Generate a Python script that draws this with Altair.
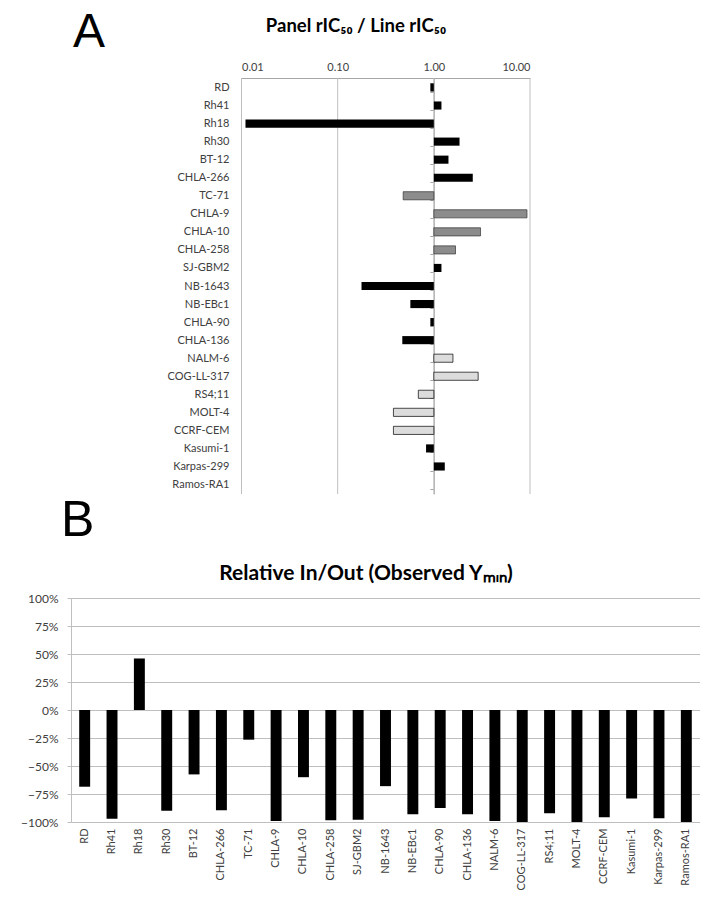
import altair as alt
import pandas as pd

# ---- data ----
cell_lines = ["RD", "Rh41", "Rh18", "Rh30", "BT-12", "CHLA-266", "TC-71", "CHLA-9",
              "CHLA-10", "CHLA-258", "SJ-GBM2", "NB-1643", "NB-EBc1", "CHLA-90",
              "CHLA-136", "NALM-6", "COG-LL-317", "RS4;11", "MOLT-4", "CCRF-CEM",
              "Kasumi-1", "Karpas-299", "Ramos-RA1"]
ratio_values = [0.92, 1.20, 0.011, 1.85, 1.42, 2.54, 0.48, 9.3,
                3.06, 1.68, 1.20, 0.177, 0.57, 0.92,
                0.47, 1.58, 2.89, 0.69, 0.38, 0.38,
                0.83, 1.30, 1.0]
ratio_groups = ["solid", "solid", "solid", "solid", "solid", "solid", "hatch", "hatch",
                "hatch", "hatch", "solid", "solid", "solid", "solid",
                "solid", "dots", "dots", "dots", "dots", "dots",
                "solid", "solid", "solid"]
ymin_values = [-0.685, -0.97, 0.46, -0.90, -0.575, -0.895, -0.265, -0.99,
               -0.60, -0.985, -0.98, -0.68, -0.93, -0.875,
               -0.93, -0.99, -1.0, -0.922, -1.0, -0.958,
               -0.79, -0.967, -1.0]
x_ticks_a = [0.01, 0.1, 1, 10]
y_ticks_b = [-1, -0.75, -0.5, -0.25, 0, 0.25, 0.5, 0.75, 1]

# ---- styling ----
FONT = "Lato"
LABEL = "#404040"
GRID = "#bfbfbf"
W, H = 629, 744
A_RANGE_X = [170.5, 459]
A_RANGE_Y = [0, 416]
B_RANGE_Y = [744, 520]

dfa = pd.DataFrame({"line": cell_lines, "ratio": ratio_values,
                    "group": ratio_groups, "base": [1.0] * len(cell_lines)})
dfb = pd.DataFrame({"line": cell_lines, "ymin": ymin_values})
dfgrid = pd.DataFrame({"ratio": x_ticks_a})

a_xscale = alt.Scale(type="log", domain=[0.01, 10], range=A_RANGE_X)
a_xaxis = alt.Axis(orient="top", values=x_ticks_a, format=".2f", grid=False,
                   ticks=False, domainColor="#a6a6a6", labelColor=LABEL,
                   labelFont=FONT, labelFontSize=11, labelPadding=6, title=None)

grid_a = alt.Chart(dfgrid).mark_rule(color=GRID, strokeWidth=1).encode(
    x=alt.X("ratio:Q", scale=a_xscale, axis=a_xaxis),
    y=alt.value(0), y2=alt.value(A_RANGE_Y[1]))

group_domain = ["solid", "hatch", "dots"]
bars_a = alt.Chart(dfa).mark_bar(strokeWidth=0.7).encode(
    x=alt.X("ratio:Q", scale=a_xscale, axis=a_xaxis),
    x2=alt.X2("base"),
    y=alt.Y("line:N", sort=cell_lines,
            scale=alt.Scale(range=A_RANGE_Y, paddingInner=0.55, paddingOuter=0.3),
            axis=alt.Axis(orient="left", offset=-362.8, domainColor="#a6a6a6",
                          tickColor="#a6a6a6", tickSize=4, tickBand="extent",
                          labelPadding=200.8, labelFont=FONT, labelFontSize=11,
                          labelColor=LABEL, title=None)),
    color=alt.Color("group:N", legend=None,
                    scale=alt.Scale(domain=group_domain,
                                    range=["#000000", "#8c8c8c", "#dcdcdc"])),
    stroke=alt.Stroke("group:N", legend=None,
                      scale=alt.Scale(domain=group_domain,
                                      range=["rgba(0,0,0,0)", "#333333", "#000000"])))

top = alt.layer(grid_a, bars_a)

bars_b = alt.Chart(dfb).mark_bar(color="black").encode(
    x=alt.X("line:N", sort=cell_lines,
            scale=alt.Scale(paddingInner=0.6, paddingOuter=0.3),
            axis=alt.Axis(orient="bottom", labelAngle=-90, labelAlign="right",
                          labelBaseline="middle", domain=False, ticks=False,
                          labelPadding=6, labelFont=FONT, labelFontSize=11,
                          labelColor=LABEL, title=None)),
    y=alt.Y("ymin:Q",
            scale=alt.Scale(domain=[-1, 1], range=B_RANGE_Y, nice=False),
            axis=alt.Axis(orient="left", values=y_ticks_b, format=".0%", grid=True,
                          gridColor=GRID, domainColor=GRID, tickColor=GRID,
                          tickSize=4, labelPadding=9, labelFont=FONT,
                          labelFontSize=12, labelColor=LABEL, title=None)))


def label(text, x, y, size, weight="normal", font=FONT, align="center"):
    return alt.Chart(pd.DataFrame({"t": [text]})).mark_text(
        fontSize=size, fontWeight=weight, font=font, align=align,
        baseline="alphabetic", color="black").encode(
        text="t:N", x=alt.value(x), y=alt.value(y))


texts = [
    label("A", 2, -31, 48, font="Liberation Sans", align="left"),
    label("B", -10, 458, 50, font="Liberation Sans", align="left"),
    label("Panel rIC\u2085\u2080 / Line rIC\u2085\u2080", 285, -46, 18.5, weight="bold"),
    label("Relative In/Out (Observed Y\u2098\u1d62\u2099)", 295, 502, 21, weight="bold"),
]

chart = alt.layer(top, bars_b, *texts).resolve_scale(
    x="independent", y="independent"
).properties(
    width=W, height=H,
    autosize=alt.AutoSizeParams(type="none"),
    padding={"left": 63, "top": 70, "right": 0, "bottom": 70},
).configure_view(stroke=None)

chart.save("out.html", embed_options={"renderer": "svg", "actions": False})
